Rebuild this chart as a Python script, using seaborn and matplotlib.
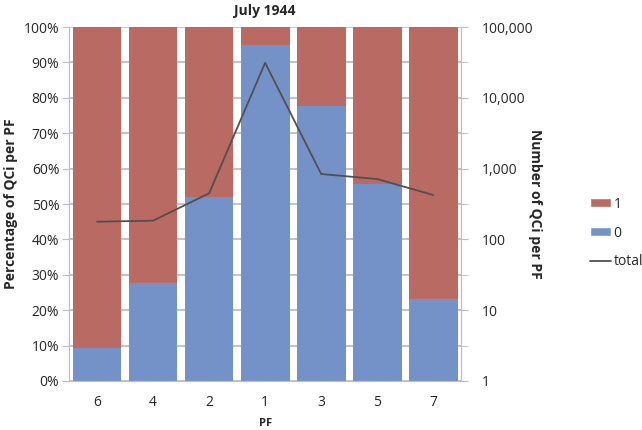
import matplotlib
matplotlib.use("Agg")
import matplotlib.pyplot as plt
import numpy as np
import pandas as pd
import seaborn as sns
from matplotlib.lines import Line2D
from matplotlib.patches import Patch
from matplotlib.ticker import FixedLocator, FuncFormatter, NullFormatter

# Data
pf = ["6", "4", "2", "1", "3", "5", "7"]
share_0 = [9.3, 27.8, 52.0, 94.9, 77.7, 55.7, 23.2]   # % of QCi with value 0
share_1 = [100 - v for v in share_0]                   # % of QCi with value 1
total = [178, 184, 448, 31300, 840, 713, 424]          # number of QCi per PF

red = "#B96A62"
blue = "#7592C8"
line_col = "#505050"
grid_col = "#BEBEBE"

sns.set_style("white")
plt.rcParams["font.family"] = ["Open Sans", "DejaVu Sans"]

df = pd.DataFrame({"PF": pf, "zero": share_0, "one": share_1, "total": total})
df["stack"] = df["zero"] + df["one"]

fig = plt.figure(figsize=(6.42, 4.30), dpi=100)
ax = fig.add_axes([0.1075, 0.114, 0.611, 0.823])

# stacked 100% bars: full height red, blue on top of it from the bottom
sns.barplot(data=df, x="PF", y="stack", order=pf, color=red, width=0.87,
            saturation=1, linewidth=0, ax=ax)
sns.barplot(data=df, x="PF", y="zero", order=pf, color=blue, width=0.87,
            saturation=1, linewidth=0, ax=ax)

ax.set_ylim(0, 100)
ax.set_xlim(-0.5, len(pf) - 0.5)
ax.set_yticks(np.arange(0, 101, 10))
ax.set_yticklabels([f"{v}%" for v in range(0, 101, 10)])
ax.set_axisbelow(True)
ax.yaxis.grid(True, color=grid_col, linewidth=1.3)
ax.xaxis.set_minor_locator(FixedLocator(np.arange(-0.5, len(pf), 1)))
ax.tick_params(axis="x", which="major", length=0, pad=10, labelsize=10)
ax.tick_params(axis="x", which="minor", length=5, color=grid_col)
ax.tick_params(axis="y", length=5, color=grid_col, labelsize=10, pad=2,
               direction="out", left=True)
ax.spines["top"].set_visible(False)
for side in ["left", "bottom", "right"]:
    ax.spines[side].set_color(grid_col)
ax.set_xlabel("PF", fontsize=8, fontweight="bold", labelpad=6)
ax.set_ylabel("Percentage of QCi per PF", fontsize=10, fontweight="bold",
              labelpad=4)
ax.set_title("July 1944", fontsize=10, fontweight="bold", pad=9)

# total on the log secondary axis
ax2 = ax.twinx()
sns.lineplot(x=np.arange(len(pf)), y=df["total"], sort=False, color=line_col,
             linewidth=1.3, ax=ax2)
ax2.set_yscale("log")
ax2.set_ylim(1, 100000)
ax2.set_yticks([1, 10, 100, 1000, 10000, 100000])
ax2.yaxis.set_major_formatter(FuncFormatter(lambda v, p: f"{int(v):,}"))
ax2.yaxis.set_minor_locator(FixedLocator([10 ** (k + 0.5) for k in range(5)]))
ax2.yaxis.set_minor_formatter(NullFormatter())
ax2.tick_params(axis="y", which="both", length=5, color=grid_col,
                labelsize=10, pad=10, right=True)
for side in ["top", "left", "bottom"]:
    ax2.spines[side].set_visible(False)
ax2.spines["right"].set_color(grid_col)
ax2.set_ylabel("Number of QCi per PF", fontsize=10, fontweight="bold",
               rotation=-90, labelpad=6)

handles = [Patch(facecolor=red, label="1"),
           Patch(facecolor=blue, label="0"),
           Line2D([], [], color=line_col, linewidth=1.3, label="total")]
fig.legend(handles=handles, loc="center left", bbox_to_anchor=(0.91, 0.458),
           frameon=False, fontsize=10, handlelength=1.5, handleheight=0.6,
           handletextpad=0.2, labelspacing=1.0, borderaxespad=0)

fig.savefig("out.png", dpi=100)
